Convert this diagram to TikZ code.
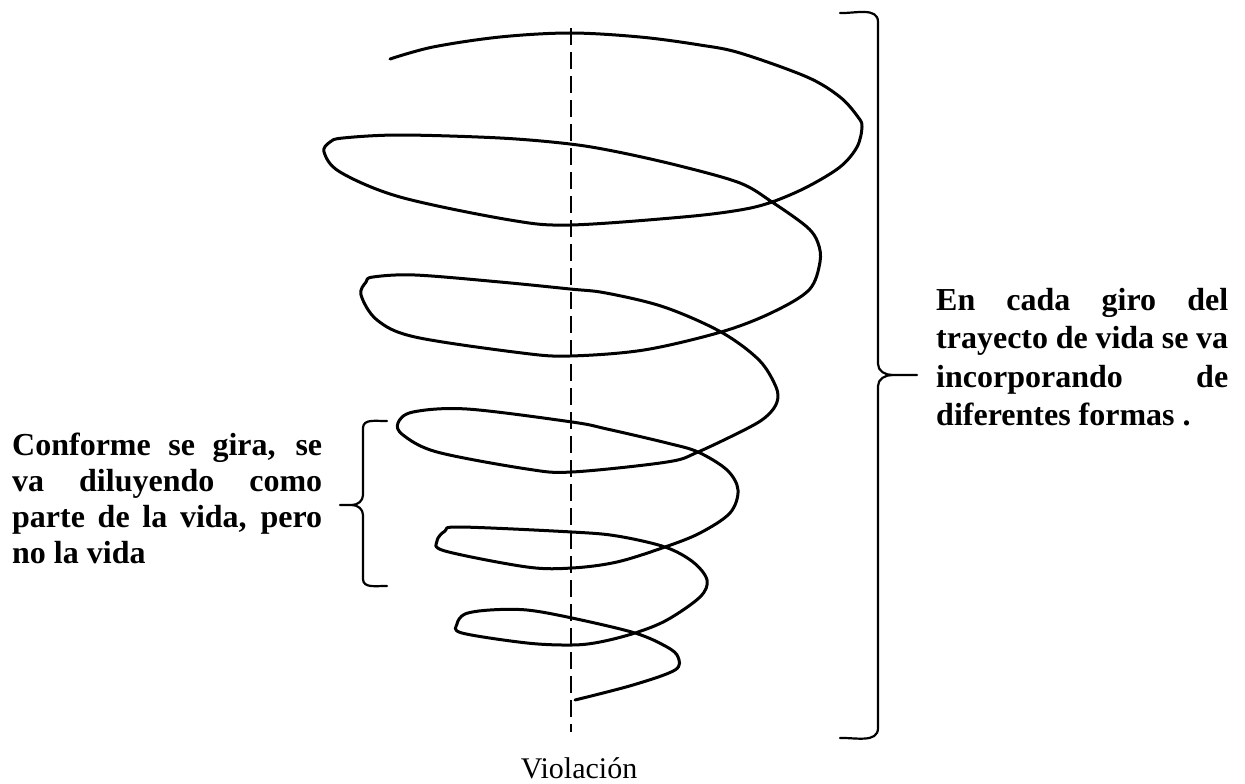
\documentclass[tikz,border=0pt]{standalone}
\usepackage{fontspec}
\setmainfont{Liberation Serif}
\usetikzlibrary{positioning}

\begin{document}
\begin{tikzpicture}[x=1pt, y=-1pt,
    note/.style={font=\fontsize{32}{36}\selectfont\bfseries, align=left,
                 inner sep=0pt, anchor=north west},
    spiral/.style={line width=3pt, line cap=round, line join=round},
    axisline/.style={line width=2.4pt, dash pattern=on 17pt off 7pt},
    bracket/.style={line width=2.2pt, line cap=round}]
  \useasboundingbox (0,0) rectangle (1245,784);

  % axis of the spiral
  \coordinate (axtop) at (571,28);
  \coordinate (axbot) at (571,732);
  \draw[axisline] (axtop) -- (axbot);
  \node[font=\fontsize{30}{36}\selectfont, anchor=base] (viol) at (579,778) {Violación};

  % the spiral, drawn from the top turn down to the axis
  \draw[spiral] plot[smooth, tension=0.55] coordinates {
    (390,59) (433,47) (500,37) (570,33) (640,37) (700,45) (740,53) (807,77)
    (840,97) (858,117) (862,127) (857,147) (840,167) (807,187) (772,202)
    (740,210) (683,217) (570,225) (510,220) (400,197) (340,172) (324,152)
    (330,142) (343,138) (400,135) (500,138) (570,144) (618,152) (680,166)
    (740,183) (772,202) (807,227) (818,243) (820,262) (809,290) (771,313)
    (721,332) (644,350) (570,356) (522,353) (415,337) (377,320) (361,295)
    (366,282) (373,277) (415,275) (500,282) (570,289) (606,293) (664,307)
    (721,332) (759,360) (776,387) (777,402) (768,415) (750,427) (698,452)
    (667,462) (572,472) (527,469) (437,452) (403,435) (398,423) (413,412)
    (467,409) (572,422) (607,429) (667,443) (698,452) (727,470) (738,490)
    (730,513) (700,533) (665,547) (617,562) (572,568) (527,567) (445,551)
    (437,541) (445,531) (460,527) (572,532) (617,536) (665,547) (693,562)
    (707,580) (700,597) (667,620) (635,633) (600,642) (572,645) (527,643)
    (462,633) (457,624) (465,614) (490,610) (527,610) (572,618) (635,633)
    (667,647) (678,657) (675,670) (633,685) (575,700)};

  % right bracket
  \node[note, font=\fontsize{32}{38.5}\selectfont\bfseries] (giro) at (936,288)
    {\makebox[292pt][s]{En cada giro del}\\
     \makebox[292pt][s]{trayecto de vida se va}\\
     \makebox[292pt][s]{incorporando de}\\
     diferentes formas .};
  \coordinate (rtip) at (917,375);
  \draw[bracket] (840,13) to[out=-2,in=90] (878,22) -- (878,364)
    to[out=-90,in=180] (892,375) -- (rtip);
  \draw[bracket] (892,375) to[out=180,in=90] (878,386) -- (878,728)
    to[out=-90,in=2] (840,738);

  % left bracket
  \node[note] (gira) at (12,433)
    {\makebox[310pt][s]{Conforme se gira, se}\\
     \makebox[310pt][s]{va diluyendo como}\\
     \makebox[310pt][s]{parte de la vida, pero}\\
     no la vida};
  \coordinate (ltip) at (340,505);
  \draw[bracket] (387,421) to[out=182,in=90] (363,428) -- (363,495)
    to[out=-90,in=0] (352,505) -- (ltip);
  \draw[bracket] (352,505) to[out=0,in=90] (363,515) -- (363,579)
    to[out=-90,in=178] (387,586);
\end{tikzpicture}
\end{document}
